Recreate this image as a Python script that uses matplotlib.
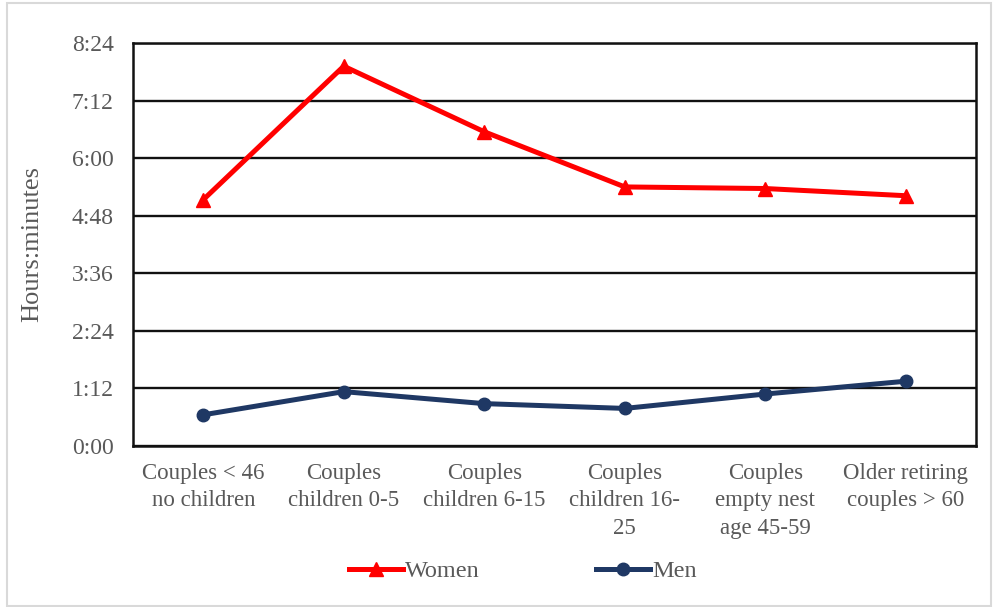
import matplotlib
matplotlib.use("Agg")
import matplotlib.pyplot as plt
from matplotlib.patches import Rectangle

# Household groups and daily time (minutes) spent by women and men
categories = [
    "Couples < 46\nno children",
    "Couples\nchildren 0-5",
    "Couples\nchildren 6-15",
    "Couples\nchildren 16-\n25",
    "Couples\nempty nest\nage 45-59",
    "Older retiring\ncouples > 60",
]
women_minutes = [308, 475, 393, 324, 322, 313]
men_minutes = [39, 68, 53, 47, 65, 81]

y_ticks_minutes = [0, 72, 144, 216, 288, 360, 432, 504]
y_tick_labels = ["0:00", "1:12", "2:24", "3:36", "4:48", "6:00", "7:12", "8:24"]

plt.rcParams["font.family"] = ["Liberation Serif", "DejaVu Serif"]
TEXT = "#595959"

fig = plt.figure(figsize=(9.93, 6.07), dpi=100)
left, right, top, bottom = 133, 976, 43, 446
ax = fig.add_axes([left / 993, 1 - bottom / 607, (right - left) / 993, (bottom - top) / 607])

x = list(range(len(categories)))
ax.plot(x, women_minutes, color="#FF0000", lw=3.6, marker="^", ms=10,
        label="Women", zorder=3, solid_joinstyle="miter")
ax.plot(x, men_minutes, color="#1F3864", lw=3.6, marker="o", ms=9,
        label="Men", zorder=3)

ax.set_xlim(-0.5, len(categories) - 0.5)
ax.set_ylim(0, 504)
ax.set_yticks(y_ticks_minutes)
ax.set_yticklabels(y_tick_labels, fontsize=17)
ax.set_xticks(x)
ax.set_xticklabels(categories, linespacing=1.42, fontsize=16.5)

ax.grid(axis="y", color="#111111", lw=1.7)
ax.set_axisbelow(True)
for s in ax.spines.values():
    s.set_color("#111111")
    s.set_linewidth(1.8)

ax.tick_params(axis="both", length=0, labelcolor=TEXT)
ax.tick_params(axis="y", pad=14)
ax.tick_params(axis="x", pad=12)

ax.set_ylabel("Hours:minutes", fontsize=19, color=TEXT)
ax.yaxis.set_label_coords((43 - left) / (right - left), 0.5)

fig.legend(loc="center", bbox_to_anchor=(523 / 993, 1 - 571 / 607),
           ncol=2, frameon=False, fontsize=17.5, handlelength=2.2,
           handletextpad=0.1, columnspacing=4.8, labelcolor=TEXT)

# light frame around the whole figure
fig.patches.append(Rectangle((7 / 993, 1 / 607), 984 / 993, 603 / 607,
                             transform=fig.transFigure, fill=False,
                             edgecolor="#d9d9d9", lw=1.5))

fig.savefig("out.png", dpi=100)
